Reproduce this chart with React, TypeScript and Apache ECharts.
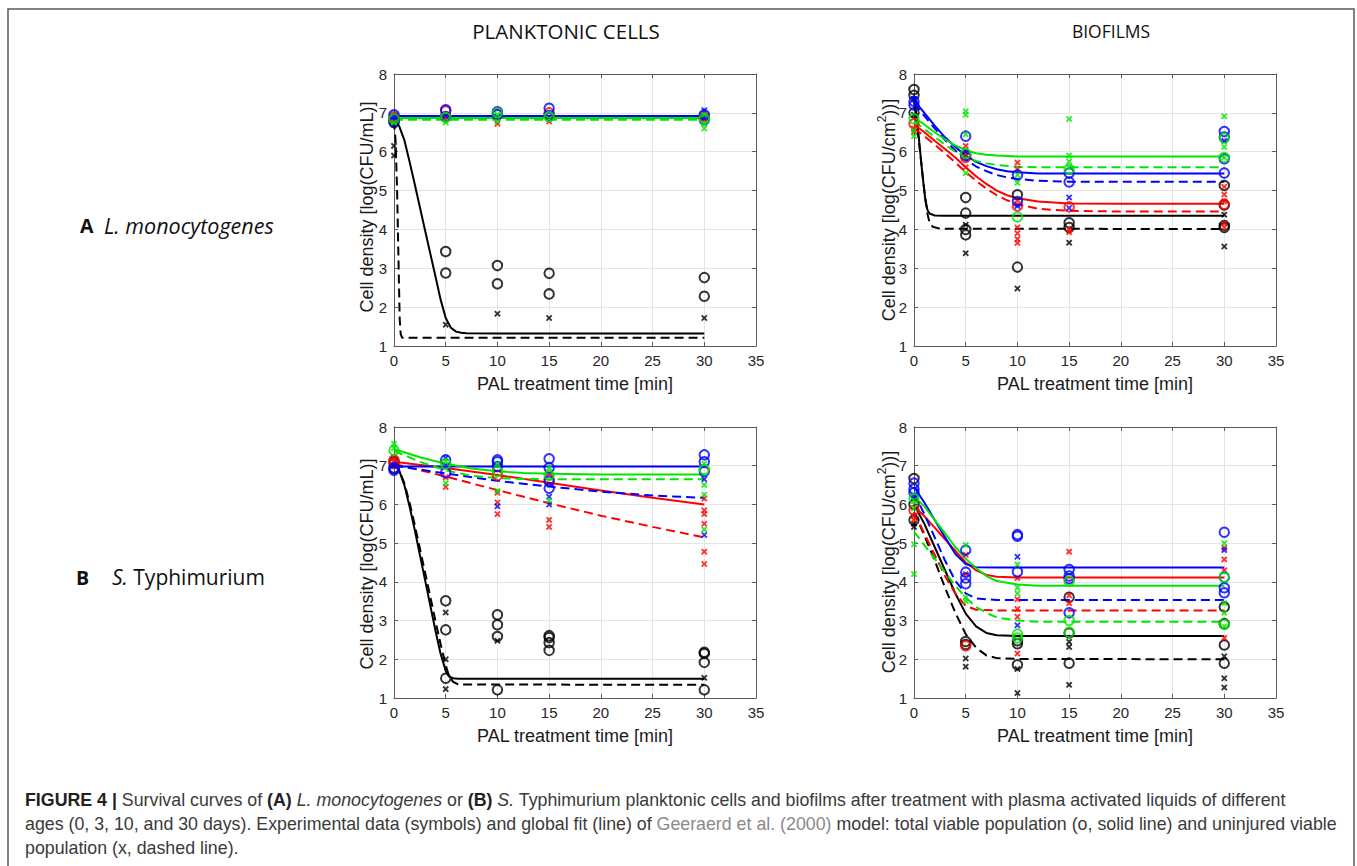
import React, { useEffect, useRef } from 'react';
import * as echarts from 'echarts';

// ---------- axis ranges ----------
const X_MIN = 0, X_MAX = 35, X_STEP = 5;
const Y_MIN = 1, Y_MAX = 8, Y_STEP = 1;

// ---------- texts ----------
const COL_TITLES = ['PLANKTONIC CELLS', 'BIOFILMS'];
const X_TITLE = 'PAL treatment time [min]';
const Y_TITLE_PLANK = 'Cell density [log(CFU/mL)]';
const Y_TITLE_BIO_A = 'Cell density [log(CFU/cm';
const Y_TITLE_BIO_B = '))]';

// ===== Panel A, planktonic (L. monocytogenes) =====
const aPkO = [[0,6.75],[0,6.85],[5,3.43],[5,2.88],[10,3.07],[10,2.6],[15,2.87],[15,2.34],[30,2.76],[30,2.28]];
const aPkX = [[0,6.15],[0,5.9],[0,6.7],[5,1.55],[10,1.83],[15,1.72],[30,1.72]];
const aPkFit = [[0,6.82],[0.5,6.66],[1,6.3],[1.5,5.75],[2,5.17],[3,3.98],[4,2.8],[4.5,2.2],[5,1.72],[5.5,1.47],[6,1.37],[6.5,1.34],[7,1.33],[10,1.32],[30,1.32]];
const aPkFitX = [[0,6.8],[0.15,6.3],[0.3,5.0],[0.45,3.0],[0.55,1.7],[0.65,1.3],[0.8,1.21],[30,1.21]];
const aPrO = [[0,6.9],[5,7.05],[5,6.9],[10,6.98],[15,7.0],[30,6.9]];
const aPrX = [[0,6.8],[5,6.85],[10,6.72],[15,6.78],[30,6.85]];
const aPrFit = [[0,6.89],[30,6.89]];
const aPrFitX = [[0,6.85],[30,6.85]];
const aPbO = [[0,6.95],[0,6.78],[5,7.08],[5,6.9],[10,7.03],[10,6.95],[15,7.12],[15,6.93],[30,6.95],[30,6.82]];
const aPbX = [[0,6.9],[5,6.92],[10,6.9],[15,6.9],[30,7.07],[30,6.9]];
const aPbFit = [[0,6.92],[30,6.92]];
const aPbFitX = [[0,6.87],[30,6.87]];
const aPgO = [[0,6.85],[5,6.88],[10,7.0],[15,6.9],[30,6.85]];
const aPgX = [[0,6.75],[5,6.75],[10,6.95],[10,6.78],[15,6.85],[30,6.95],[30,6.6],[30,6.72]];
const aPgFit = [[0,6.87],[30,6.87]];
const aPgFitX = [[0,6.82],[30,6.82]];

// ===== Panel A, biofilms =====
const aBkO = [[0,7.6],[0,7.45],[0,7.0],[5,4.82],[5,4.42],[5,4.0],[5,3.86],[10,4.89],[10,3.03],[15,4.17],[15,4.05],[30,5.13],[30,4.63],[30,4.1],[30,4.05]];
const aBkX = [[0,7.35],[0,6.95],[5,4.12],[5,3.39],[10,2.48],[15,3.66],[30,4.38],[30,3.56]];
const aBkFit = [[0,7.45],[0.4,6.55],[0.8,5.45],[1.1,4.75],[1.3,4.5],[1.5,4.41],[2,4.36],[3,4.35],[30,4.35]];
const aBkFitX = [[0,7.3],[0.5,6.2],[1,5.0],[1.3,4.4],[1.5,4.18],[1.8,4.07],[2.5,4.02],[30,4.01]];
const aBrO = [[0,6.72],[5,5.85],[10,4.6],[15,4.58],[30,4.65]];
const aBrX = [[0,6.6],[0,6.5],[5,6.15],[5,5.9],[5,5.6],[10,5.72],[10,5.55],[10,4.05],[10,3.9],[10,3.75],[10,3.65],[15,4.0],[15,3.93],[30,5.1],[30,4.9],[30,4.72],[30,4.15],[30,4.05]];
const aBrFit = [[0,6.7],[1,6.5],[2,6.28],[3,6.07],[4,5.85],[5,5.6],[6,5.37],[7,5.17],[8,5.0],[9,4.88],[10,4.8],[12,4.72],[15,4.67],[20,4.66],[30,4.66]];
const aBrFitX = [[0,6.6],[1,6.4],[2,6.18],[3,5.96],[4,5.72],[5,5.48],[6,5.25],[7,5.05],[8,4.88],[9,4.75],[10,4.65],[12,4.53],[15,4.48],[20,4.46],[30,4.46]];
const aBbO = [[0,7.3],[0,7.2],[5,6.4],[5,5.9],[10,5.4],[10,4.72],[15,5.45],[15,5.22],[30,6.52],[30,6.38],[30,5.82],[30,5.45]];
const aBbX = [[0,7.35],[5,6.0],[10,4.6],[15,4.82],[15,4.55],[30,6.28]];
const aBbFit = [[0,7.32],[1,7.0],[2,6.67],[3,6.37],[4,6.12],[5,5.9],[6,5.74],[7,5.63],[8,5.55],[9,5.5],[10,5.47],[12,5.44],[30,5.44]];
const aBbFitX = [[0,7.25],[1,6.92],[2,6.6],[3,6.3],[4,6.03],[5,5.8],[6,5.62],[7,5.5],[8,5.4],[9,5.34],[10,5.3],[12,5.25],[15,5.23],[30,5.23]];
const aBgO = [[0,6.85],[5,5.95],[10,4.32],[15,5.55],[30,6.35],[30,5.85]];
const aBgX = [[0,6.55],[0,6.4],[5,7.04],[5,6.95],[5,6.45],[5,5.45],[10,5.4],[10,5.2],[15,6.84],[15,5.9],[15,5.75],[15,5.6],[30,6.91],[30,6.12],[30,5.85]];
const aBgFit = [[0,6.88],[1,6.7],[2,6.5],[3,6.32],[4,6.16],[5,6.04],[6,5.96],[7,5.92],[8,5.9],[10,5.88],[30,5.88]];
const aBgFitX = [[0,6.78],[1,6.58],[2,6.38],[3,6.18],[4,6.0],[5,5.86],[6,5.76],[7,5.7],[8,5.66],[10,5.61],[12,5.6],[30,5.6]];

// ===== Panel B, planktonic (S. Typhimurium) =====
const bPkO = [[0,6.92],[0,7.1],[5,3.51],[5,2.76],[5,1.51],[10,3.15],[10,2.89],[10,2.59],[10,1.21],[15,2.61],[15,2.56],[15,2.43],[15,2.23],[30,2.18],[30,2.15],[30,1.92],[30,1.21]];
const bPkX = [[0,7.0],[5,3.21],[5,2.0],[5,1.23],[10,2.48],[30,1.52]];
const bPkFit = [[0,7.05],[0.5,6.88],[1,6.5],[1.5,5.95],[2,5.35],[3,4.05],[4,2.75],[4.5,2.15],[5,1.7],[5.3,1.56],[5.7,1.51],[6.2,1.5],[30,1.5]];
const bPkFitX = [[0,7.05],[0.5,6.88],[1,6.55],[1.5,6.05],[2,5.48],[3,4.25],[4,3.0],[4.5,2.4],[5,1.85],[5.3,1.58],[5.7,1.42],[6.2,1.35],[30,1.34]];
const bPrO = [[0,7.15],[0,7.05],[10,6.75],[15,6.65]];
const bPrX = [[0,7.2],[0,7.1],[5,6.7],[5,6.45],[10,6.3],[10,6.05],[10,5.75],[15,5.6],[15,5.42],[30,6.15],[30,5.85],[30,5.75],[30,5.5],[30,4.78],[30,4.46]];
const bPrFit = [[0,7.1],[5,6.94],[10,6.76],[15,6.56],[20,6.36],[25,6.17],[30,6.0]];
const bPrFitX = [[0,7.05],[5,6.72],[10,6.37],[15,6.03],[20,5.71],[25,5.42],[30,5.15]];
const bPbO = [[0,6.95],[0,6.88],[5,7.15],[5,6.82],[10,7.15],[10,7.1],[10,6.98],[15,7.18],[15,6.95],[15,6.6],[15,6.42],[30,7.28],[30,7.1],[30,6.85]];
const bPbX = [[0,7.0],[5,7.2],[10,5.95],[15,6.2],[15,6.0],[30,6.65],[30,5.21]];
const bPbFit = [[0,6.98],[30,6.98]];
const bPbFitX = [[0,7.0],[5,6.8],[10,6.61],[15,6.46],[20,6.33],[25,6.23],[30,6.17]];
const bPgO = [[0,7.4],[5,7.05],[10,6.85],[15,6.75],[30,6.9]];
const bPgX = [[0,7.57],[0,7.45],[5,7.1],[5,6.55],[10,7.05],[10,6.35],[15,6.95],[15,6.1],[30,7.05],[30,6.5],[30,6.25],[30,5.35]];
const bPgFit = [[0,7.43],[2.5,7.22],[5,7.05],[7.5,6.93],[10,6.86],[12.5,6.81],[15,6.79],[20,6.77],[30,6.77]];
const bPgFitX = [[0,7.38],[2.5,7.1],[5,6.88],[7.5,6.74],[10,6.68],[12.5,6.66],[15,6.65],[30,6.65]];

// ===== Panel B, biofilms =====
const bBkO = [[0,6.67],[0,6.0],[0,5.6],[5,2.46],[5,2.38],[10,2.48],[10,2.4],[10,1.86],[15,3.6],[15,2.68],[15,1.9],[30,3.35],[30,2.92],[30,2.37],[30,1.9]];
const bBkX = [[0,5.5],[0,5.42],[5,2.02],[5,1.81],[10,1.75],[10,1.13],[15,2.45],[15,2.32],[15,1.34],[30,2.08],[30,1.51],[30,1.27]];
const bBkFit = [[0,6.0],[1,5.5],[2,4.9],[3,4.3],[4,3.7],[5,3.18],[6,2.85],[7,2.68],[8,2.62],[10,2.6],[30,2.6]];
const bBkFitX = [[0,5.8],[1,5.2],[2,4.55],[3,3.85],[4,3.2],[5,2.65],[6,2.3],[7,2.1],[8,2.03],[10,2.01],[30,2.0]];
const bBrO = [[0,5.85],[5,2.35]];
const bBrX = [[0,5.7],[0,5.6],[5,4.7],[5,4.2],[10,4.1],[10,3.55],[10,3.3],[10,3.1],[10,2.15],[15,4.78],[15,3.65],[15,3.45],[30,4.88],[30,4.58],[30,4.3],[30,2.55]];
const bBrFit = [[0,5.95],[1,5.7],[2,5.4],[3,5.1],[4,4.8],[5,4.5],[6,4.3],[7,4.18],[8,4.13],[10,4.11],[30,4.11]];
const bBrFitX = [[0,5.8],[1,5.25],[2,4.7],[3,4.15],[4,3.7],[5,3.38],[6,3.28],[8,3.26],[30,3.26]];
const bBbO = [[0,6.55],[0,6.4],[0,6.3],[5,4.82],[5,4.25],[5,4.1],[5,3.95],[10,5.22],[10,5.18],[10,4.26],[15,4.32],[15,4.15],[15,4.08],[15,3.2],[30,5.28],[30,4.12],[30,3.85],[30,3.72]];
const bBbX = [[0,6.2],[10,4.65],[10,2.88],[30,4.82]];
const bBbFit = [[0,6.45],[1,6.05],[2,5.6],[3,5.15],[4,4.72],[5,4.46],[6,4.38],[8,4.37],[30,4.37]];
const bBbFitX = [[0,6.3],[1,5.75],[2,5.15],[3,4.55],[4,4.02],[5,3.7],[6,3.57],[8,3.53],[30,3.53]];
const bBgO = [[0,6.15],[10,2.65],[10,2.55],[15,4.02],[15,3.0],[15,2.7],[30,4.12],[30,2.9]];
const bBgX = [[0,6.1],[0,5.9],[0,4.97],[0,4.2],[5,4.95],[5,3.6],[5,3.5],[10,4.45],[10,3.85],[10,3.7],[30,5.0],[30,3.45],[30,3.2],[30,2.85]];
const bBgFit = [[0,6.2],[1,5.95],[2,5.6],[3,5.25],[4,4.9],[5,4.6],[6,4.35],[7,4.15],[8,4.02],[10,3.93],[12,3.9],[30,3.9]];
const bBgFitX = [[0,5.3],[1,4.95],[2,4.6],[3,4.25],[4,3.9],[5,3.6],[6,3.35],[7,3.2],[8,3.08],[10,3.0],[12,2.97],[30,2.97]];

// ---------- styling ----------
const C_BLACK = '#000000', C_RED = '#ff0000', C_BLUE = '#0000ff', C_GREEN = '#00e600';
const AX = '#5a5a5a';
const GRIDLINE = '#e4e4e4';
const TICK_FONT = 'Liberation Sans, Arial, Helvetica, sans-serif';
const XPATH = 'path://M0,2L2,0L5,3L8,0L10,2L7,5L10,8L8,10L5,7L2,10L0,8L3,5Z';

const GRIDS = [
  { left: 394, top: 74, width: 362, height: 272 },
  { left: 914, top: 74, width: 362, height: 272 },
  { left: 394, top: 427, width: 362, height: 271 },
  { left: 914, top: 427, width: 362, height: 271 },
];

const PANELS = [
  [[C_BLACK, aPkO, aPkX, aPkFit, aPkFitX], [C_RED, aPrO, aPrX, aPrFit, aPrFitX], [C_BLUE, aPbO, aPbX, aPbFit, aPbFitX], [C_GREEN, aPgO, aPgX, aPgFit, aPgFitX]],
  [[C_BLACK, aBkO, aBkX, aBkFit, aBkFitX], [C_RED, aBrO, aBrX, aBrFit, aBrFitX], [C_BLUE, aBbO, aBbX, aBbFit, aBbFitX], [C_GREEN, aBgO, aBgX, aBgFit, aBgFitX]],
  [[C_BLACK, bPkO, bPkX, bPkFit, bPkFitX], [C_RED, bPrO, bPrX, bPrFit, bPrFitX], [C_BLUE, bPbO, bPbX, bPbFit, bPbFitX], [C_GREEN, bPgO, bPgX, bPgFit, bPgFitX]],
  [[C_BLACK, bBkO, bBkX, bBkFit, bBkFitX], [C_RED, bBrO, bBrX, bBrFit, bBrFitX], [C_BLUE, bBbO, bBbX, bBbFit, bBbFitX], [C_GREEN, bBgO, bBgX, bBgFit, bBgFitX]],
];

function buildOption() {
  const grid: any[] = [];
  const xAxis: any[] = [];
  const yAxis: any[] = [];
  const series: any[] = [];
  const axLine = { show: true, onZero: false, lineStyle: { color: AX, width: 1 } };
  const tick = { show: true, inside: true, length: 4, lineStyle: { color: AX } };

  GRIDS.forEach((g, i) => {
    grid.push({ ...g, containLabel: false });
    xAxis.push({
      type: 'value', gridIndex: i, min: X_MIN, max: X_MAX, interval: X_STEP, position: 'bottom',
      axisLine: axLine, axisTick: tick,
      axisLabel: { color: '#262626', fontSize: 15, fontFamily: TICK_FONT, margin: 7 },
      splitLine: { show: true, lineStyle: { color: GRIDLINE, width: 1 } },
    });
    xAxis.push({
      type: 'value', gridIndex: i, min: X_MIN, max: X_MAX, interval: X_STEP, position: 'top',
      axisLine: axLine, axisTick: tick, axisLabel: { show: false }, splitLine: { show: false },
    });
    yAxis.push({
      type: 'value', gridIndex: i, min: Y_MIN, max: Y_MAX, interval: Y_STEP, position: 'left',
      axisLine: axLine, axisTick: tick,
      axisLabel: { color: '#262626', fontSize: 15, fontFamily: TICK_FONT, margin: 7 },
      splitLine: { show: true, lineStyle: { color: GRIDLINE, width: 1 } },
    });
    yAxis.push({
      type: 'value', gridIndex: i, min: Y_MIN, max: Y_MAX, interval: Y_STEP, position: 'right',
      axisLine: axLine, axisTick: tick, axisLabel: { show: false }, splitLine: { show: false },
    });

    PANELS[i].forEach(([color, o, x, fit, fitX]: any) => {
      const common = { xAxisIndex: 2 * i, yAxisIndex: 2 * i, silent: true };
      series.push({ ...common, type: 'line', data: fit, symbol: 'none', showSymbol: false, smooth: false, lineStyle: { color, width: 2, join: 'round' }, z: 2 });
      series.push({ ...common, type: 'line', data: fitX, symbol: 'none', showSymbol: false, smooth: false, lineStyle: { color, width: 2, type: [9, 5] }, z: 2 });
      series.push({ ...common, type: 'scatter', data: o, symbol: 'circle', symbolSize: 9.5, itemStyle: { color: 'rgba(0,0,0,0)', borderColor: color, borderWidth: 2 }, z: 3 });
      series.push({ ...common, type: 'scatter', data: x, symbol: XPATH, symbolSize: 6.5, itemStyle: { color }, z: 3 });
    });
  });

  const T = (x: number, y: number, text: string, extra: any = {}) => ({
    type: 'text', x, y, silent: true, z: 10,
    style: {
      text, fill: '#1a1a1a', fontSize: 18, fontFamily: TICK_FONT,
      textAlign: 'center', align: 'center', textVerticalAlign: 'middle', verticalAlign: 'middle',
      ...extra,
    },
  });

  const bioY = {
    text: '{a|' + Y_TITLE_BIO_A + '}{s|2}{a|' + Y_TITLE_BIO_B + '}',
    rich: {
      a: { fontSize: 18, fontFamily: TICK_FONT, fill: '#1a1a1a', color: '#1a1a1a', verticalAlign: 'bottom', lineHeight: 22 },
      s: { fontSize: 12, fontFamily: TICK_FONT, fill: '#1a1a1a', color: '#1a1a1a', verticalAlign: 'top', lineHeight: 22 },
    },
  };

  const capFont = 'Liberation Sans, Arial, Helvetica, sans-serif';
  const capColor = '#3a3a3a';
  const CS = 17.8;
  const capRich = {
    r: { fontSize: CS, fontFamily: capFont, fill: capColor, color: capColor },
    b: { fontSize: CS, fontFamily: capFont, fontWeight: 'bold', fill: '#222', color: '#222' },
    i: { fontSize: CS, fontFamily: capFont, fontStyle: 'italic', fill: capColor, color: capColor },
    g: { fontSize: CS, fontFamily: capFont, fill: '#8a8a8a', color: '#8a8a8a' },
  };
  const cap = (y: number, text: string) => ({
    type: 'text', x: 25, y, silent: true,
    style: { text, rich: capRich, fontSize: CS, fontFamily: capFont, fill: capColor, textAlign: 'left', align: 'left', textVerticalAlign: 'middle', verticalAlign: 'middle' },
  });

  const labelFont = 'Open Sans, Noto Sans, sans-serif';
  const RL = 21.5;
  const graphic: any[] = [
    { type: 'rect', silent: true, shape: { x: 8, y: 9, width: 1346, height: 900 }, style: { fill: 'none', stroke: '#5a5a5a', lineWidth: 1.5 } },
    T(566, 31, COL_TITLES[0], { fontFamily: labelFont, fontSize: 20.5, fill: '#111' }),
    T(1111, 31, COL_TITLES[1], { fontFamily: labelFont, fontSize: 17.5, fill: '#111' }),
    T(80, 225, 'A', { fontFamily: labelFont, fontSize: RL - 2, fontWeight: 'bold', fill: '#111', textAlign: 'left', align: 'left' }),
    T(104, 225, 'L. monocytogenes', { fontFamily: labelFont, fontSize: RL, fontStyle: 'italic', fill: '#111', textAlign: 'left', align: 'left' }),
    T(76, 577, 'B', { fontFamily: labelFont, fontSize: RL - 2, fontWeight: 'bold', fill: '#111', textAlign: 'left', align: 'left' }),
    T(112, 577, '{i|S.} Typhimurium', {
      fontFamily: labelFont, fontSize: RL - 0.5, fill: '#111', textAlign: 'left', align: 'left',
      rich: { i: { fontFamily: labelFont, fontSize: RL - 0.5, fontStyle: 'italic', fill: '#111', color: '#111' } },
    }),
    // axis titles
    T(575, 384, X_TITLE), T(1095, 384, X_TITLE),
    T(575, 736, X_TITLE), T(1095, 736, X_TITLE),
    { ...T(367, 207, Y_TITLE_PLANK), rotation: Math.PI / 2 },
    { ...T(367, 564, Y_TITLE_PLANK), rotation: Math.PI / 2 },
    { ...T(887, 210, '', bioY), rotation: Math.PI / 2 },
    { ...T(887, 562, '', bioY), rotation: Math.PI / 2 },
    // caption
    cap(800, '{b|FIGURE 4 | }{r|Survival curves of }{b|(A) }{i|L. monocytogenes}{r| or }{b|(B) }{i|S.}{r| Typhimurium planktonic cells and biofilms after treatment with plasma activated liquids of different}'),
    cap(824, '{r|ages (0, 3, 10, and 30 days). Experimental data (symbols) and global fit (line) of }{g|Geeraerd et al. (2000)}{r| model: total viable population (o, solid line) and uninjured viable}'),
    cap(848, '{r|population (x, dashed line).}'),
  ];

  return { animation: false, backgroundColor: '#ffffff', grid, xAxis, yAxis, series, graphic };
}

export default function App() {
  const ref = useRef<HTMLDivElement>(null);
  useEffect(() => {
    if (!ref.current) return;
    const chart = echarts.init(ref.current, undefined, { renderer: 'svg' });
    chart.setOption(buildOption() as any);
    return () => chart.dispose();
  }, []);
  return <div ref={ref} style={{ position: 'absolute', left: 0, top: 0, width: 1357, height: 866 }} />;
}
